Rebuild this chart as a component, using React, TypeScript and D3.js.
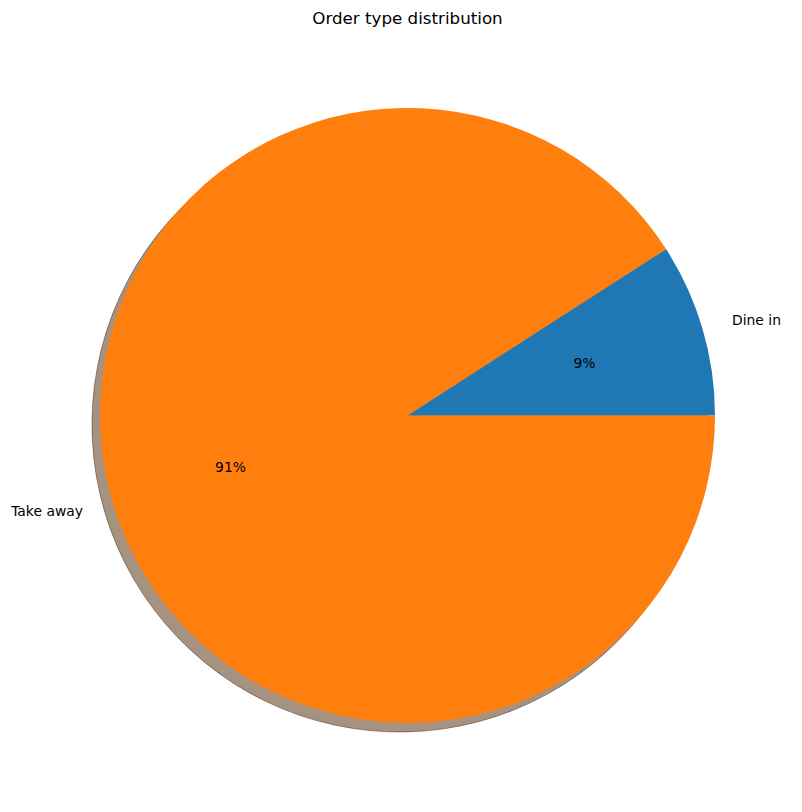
import React from "react";
import * as d3 from "d3";

const labels = ["Dine in", "Take away"];
const shares = [9.1, 90.9];
const colors = ["#1f77b4", "#ff7f0e"];
const shadowColors = ["rgb(9,36,54)", "rgb(77,38,4)"];

const width = 802;
const height = 812;
const cx = 407.5;
const cy = 415.5;
const radius = 307.5;

const App = () => {
  const data = labels.map((label, i) => ({ label, value: shares[i], color: colors[i], shadow: shadowColors[i] }));

  // matplotlib style: counterclockwise starting at 3 o'clock
  const pie = d3
    .pie<any>()
    .sort(null)
    .value((d) => d.value)
    .startAngle(Math.PI / 2)
    .endAngle(Math.PI / 2 - 2 * Math.PI);

  const arcs = pie(data);
  const total = d3.sum(shares);

  const arc = d3.arc<any>().innerRadius(0).outerRadius(radius);
  const labelArc = d3.arc<any>().innerRadius(radius * 1.1).outerRadius(radius * 1.1);
  const pctArc = d3.arc<any>().innerRadius(radius * 0.6).outerRadius(radius * 0.6);

  return (
    <svg
      width={width}
      height={height}
      style={{ position: "absolute", left: 0, top: 0, background: "white" }}
      fontFamily="DejaVu Sans, sans-serif"
    >
      <text x={cx} y={24} textAnchor="middle" fontSize={16.7} fill="black">
        Order type distribution
      </text>
      <g transform={`translate(${cx},${cy})`}>
        {/* shadows */}
        <g transform="translate(-8,9)">
          {arcs.map((a, i) => (
            <path
              key={"s" + i}
              d={arc(a) || ""}
              fill={a.data.shadow}
              fillOpacity={0.5}
              stroke={a.data.shadow}
              strokeOpacity={0.5}
              strokeWidth={1}
            />
          ))}
        </g>
        {arcs.map((a, i) => (
          <path key={"w" + i} d={arc(a) || ""} fill={a.data.color} />
        ))}
        {arcs.map((a, i) => {
          const [lx, ly] = labelArc.centroid(a);
          return (
            <text
              key={"l" + i}
              x={lx}
              y={ly}
              dy="0.35em"
              textAnchor={lx > 0 ? "start" : "end"}
              fontSize={13.9}
              fill="black"
            >
              {a.data.label}
            </text>
          );
        })}
        {arcs.map((a, i) => {
          const [px, py] = pctArc.centroid(a);
          return (
            <text
              key={"p" + i}
              x={px}
              y={py}
              dy="0.35em"
              textAnchor="middle"
              fontSize={13.9}
              fill="black"
            >
              {d3.format(".0f")((a.data.value / total) * 100)}%
            </text>
          );
        })}
      </g>
    </svg>
  );
};

export default App;
